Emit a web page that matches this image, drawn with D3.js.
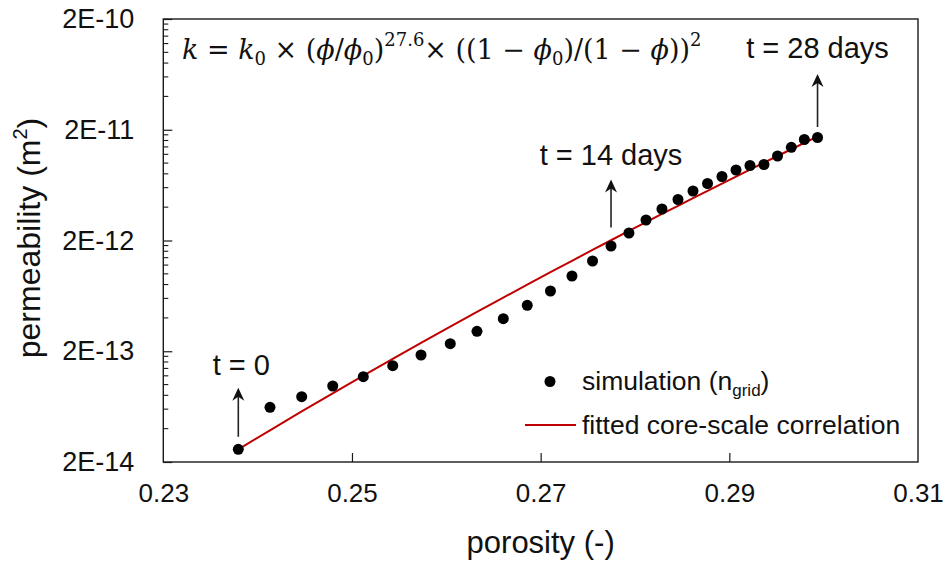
<!DOCTYPE html>
<html>
<head>
<meta charset="utf-8">
<script src="https://cdn.jsdelivr.net/npm/d3@7"></script>
<style>
  html, body { margin: 0; padding: 0; background: #fff; }
  svg { display: block; font-family: "Liberation Sans", Arial, sans-serif; }
</style>
</head>
<body>
<svg id="chart" width="947" height="563"></svg>
<script>
// Simulated porosity / permeability, one point per day (t = 0 ... 28 days)
const porosity = [
  0.23795, 0.24131, 0.24467, 0.24796, 0.25120, 0.25432, 0.25732, 0.26042,
  0.26325, 0.26604, 0.26858, 0.27104, 0.27332, 0.27550, 0.27746, 0.27936,
  0.28117, 0.28286, 0.28456, 0.28615, 0.28769, 0.28922, 0.29071, 0.29219,
  0.29367, 0.29511, 0.29657, 0.29795, 0.29935
];
const permeability = [
  2.604e-14, 6.235e-14, 7.775e-14, 9.71e-14, 1.178e-13, 1.481e-13, 1.850e-13, 2.340e-13,
  3.028e-13, 3.935e-13, 5.198e-13, 6.998e-13, 9.56e-13, 1.306e-12, 1.784e-12, 2.337e-12,
  3.063e-12, 3.850e-12, 4.691e-12, 5.598e-12, 6.542e-12, 7.567e-12, 8.664e-12, 9.51e-12,
  9.71e-12, 1.159e-11, 1.388e-11, 1.633e-11, 1.702e-11
];

// Core-scale correlation exponent: k = k0 (phi/phi0)^n ((1-phi0)/(1-phi))^2
const fitExponent = 27.6;

// Axis ticks
const xTicks = [0.23, 0.25, 0.27, 0.29, 0.31];
const xTickLabels = ["0.23", "0.25", "0.27", "0.29", "0.31"];
const yTicks = [2e-14, 2e-13, 2e-12, 2e-11, 2e-10];
const yTickLabels = ["2E-14", "2E-13", "2E-12", "2E-11", "2E-10"];

// Time markers (index into the simulation series)
const markerLabels = ["t = 0", "t = 14 days", "t = 28 days"];
const markerIndex = [0, 14, 28];

// ---------------------------------------------------------------------------
const svg = d3.select("#chart");
const plot = { left: 163.3, right: 918, top: 19, bottom: 462 };

const x = d3.scaleLinear().domain([0.23, 0.31]).range([plot.left, plot.right]);
const y = d3.scaleLog().domain([2e-14, 2e-10]).range([plot.bottom, plot.top]);

const phi0 = porosity[0], k0 = permeability[0];
const fitted = porosity.map(p => ({
  p,
  k: k0 * Math.pow(p / phi0, fitExponent) * Math.pow((1 - phi0) / (1 - p), 2)
}));

// Plot frame
svg.append("rect")
  .attr("x", plot.left).attr("y", plot.top)
  .attr("width", plot.right - plot.left).attr("height", plot.bottom - plot.top)
  .attr("fill", "none").attr("stroke", "#1a1a1a").attr("stroke-width", 1.4);

// Bottom axis (ticks drawn inward)
const xAxis = d3.axisBottom(x).tickValues(xTicks)
  .tickFormat((d, i) => xTickLabels[i]).tickSizeInner(-9).tickSizeOuter(0).tickPadding(22);
const gx = svg.append("g").attr("transform", `translate(0,${plot.bottom})`).call(xAxis);
gx.select(".domain").remove();
gx.selectAll(".tick line").attr("stroke", "#1a1a1a").attr("stroke-width", 1.2);
gx.selectAll(".tick line").filter(d => d === 0.23 || d === 0.31).remove();
gx.selectAll("text").attr("font-size", 26).attr("fill", "#111")
  .attr("font-family", "Liberation Sans, Arial, sans-serif");

// Left axis: major ticks plus minor ticks at k * 10^n
const minorTicks = [];
yTicks.slice(0, -1).forEach(t => { for (let m = 2; m <= 9; m++) minorTicks.push(t * m); });
svg.append("g").selectAll("line.minor").data(minorTicks).join("line")
  .attr("x1", plot.left).attr("x2", plot.left + 5)
  .attr("y1", d => y(d)).attr("y2", d => y(d))
  .attr("stroke", "#1a1a1a").attr("stroke-width", 1.1);

const yAxis = d3.axisLeft(y).tickValues(yTicks)
  .tickFormat((d, i) => yTickLabels[i]).tickSizeInner(-9).tickSizeOuter(0).tickPadding(29);
const gy = svg.append("g").attr("transform", `translate(${plot.left},0)`).call(yAxis);
gy.select(".domain").remove();
gy.selectAll(".tick line").attr("stroke", "#1a1a1a").attr("stroke-width", 1.2);
gy.selectAll("text").attr("font-size", 27).attr("fill", "#111")
  .attr("font-family", "Liberation Sans, Arial, sans-serif");

// Axis titles
svg.append("text")
  .attr("x", (plot.left + plot.right) / 2).attr("y", 553)
  .attr("text-anchor", "middle").attr("font-size", 31).attr("fill", "#111")
  .text("porosity (-)");

const yTitle = svg.append("text")
  .attr("transform", `translate(40,238) rotate(-90)`)
  .attr("text-anchor", "middle").attr("font-size", 32).attr("fill", "#111");
yTitle.append("tspan").text("permeability (m");
yTitle.append("tspan").attr("font-size", 20).attr("dy", -13).text("2");
yTitle.append("tspan").attr("dy", 13).text(")");

// Fitted correlation curve
svg.append("path")
  .datum(fitted)
  .attr("fill", "none").attr("stroke", "#c00000").attr("stroke-width", 2)
  .attr("d", d3.line().x(d => x(d.p)).y(d => y(d.k)));

// Simulation points
svg.append("g").selectAll("circle").data(porosity).join("circle")
  .attr("cx", (d, i) => x(d)).attr("cy", (d, i) => y(permeability[i]))
  .attr("r", 5.5).attr("fill", "#000");

// Time markers: arrow above the point with a label on top
const markerLayout = [
  { gap: 7, len: 49, textGap: 13, dx: 3 },
  { gap: 13, len: 48, textGap: 14, dx: 0 },
  { gap: 5, len: 53, textGap: 16, dx: 0 }
];
markerIndex.forEach((idx, j) => {
  const px = x(porosity[idx]), py = y(permeability[idx]);
  const L = markerLayout[j];
  const y0 = py - 5.5 - L.gap, y1 = y0 - L.len;
  svg.append("line")
    .attr("x1", px).attr("x2", px).attr("y1", y0).attr("y2", y1 + 8)
    .attr("stroke", "#222").attr("stroke-width", 1.6);
  svg.append("path")
    .attr("d", `M${px},${y1} L${px - 6},${y1 + 13} L${px},${y1 + 9} L${px + 6},${y1 + 13} Z`)
    .attr("fill", "#111");
  svg.append("text")
    .attr("x", px + L.dx).attr("y", y1 - L.textGap)
    .attr("text-anchor", "middle").attr("font-size", 29).attr("fill", "#111")
    .text(markerLabels[j]);
});

// Correlation formula
const f = svg.append("text").attr("x", 182).attr("y", 59)
  .attr("font-family", "DejaVu Serif, Liberation Serif, serif").attr("font-size", 27).attr("fill", "#111");
const seg = (t, opts = {}) => {
  const s = f.append("tspan").text(t);
  if (opts.it) s.attr("font-style", "italic");
  if (opts.size) s.attr("font-size", opts.size);
  if (opts.dy) s.attr("dy", opts.dy);
  return s;
};
seg("k", { it: true }); seg(" = "); seg("k", { it: true });
seg("0", { size: 18, dy: 6 }); seg(" × (", { dy: -6 });
seg("ϕ", { it: true }); seg("/"); seg("ϕ", { it: true });
seg("0", { size: 18, dy: 6 }); seg(")", { dy: -6 });
seg("27.6", { size: 18, dy: -13 }); seg("× ((1 − ", { dy: 13 });
seg("ϕ", { it: true }); seg("0", { size: 18, dy: 6 });
seg(")/(1 − ", { dy: -6 }); seg("ϕ", { it: true }); seg("))");
seg("2", { size: 18, dy: -13 });

// Legend
const lg = svg.append("g");
lg.append("circle").attr("cx", 550).attr("cy", 381.5).attr("r", 5.5).attr("fill", "#000");
const l1 = lg.append("text").attr("x", 582).attr("y", 390).attr("font-size", 26.5).attr("fill", "#111");
l1.append("tspan").text("simulation (n");
l1.append("tspan").attr("font-size", 17).attr("dy", 6).text("grid");
l1.append("tspan").attr("dy", -6).text(")");
lg.append("line").attr("x1", 525).attr("x2", 576).attr("y1", 425).attr("y2", 425)
  .attr("stroke", "#c00000").attr("stroke-width", 2);
lg.append("text").attr("x", 582).attr("y", 434).attr("font-size", 26.5).attr("fill", "#111")
  .text("fitted core-scale correlation");
</script>
</body>
</html>
